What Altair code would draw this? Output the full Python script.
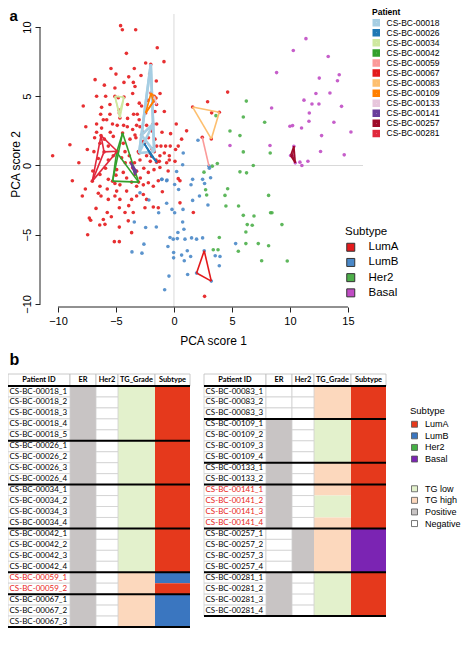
import itertools
import altair as alt
import pandas as pd

# ================= panel a : PCA scores =================
subtypes = ["LumA", "LumB", "Her2", "Basal"]
subtype_colors_a = ["#e41a1c", "#4a88c8", "#4daf4a", "#c04cc4"]

lumA_pts = [
    (-4.6, 10.1), (-4.45, 9.8), (-3.3, 9.8), (-1.44, 8.5),
    (-0.86, 7.5), (-2.44, 7.4), (-5.43, 7.0), (-3.42, 7.0), (-5.0, 6.6), (-3.9, 6.4), (-2.84, 6.5),
    (-1.52, 6.1), (-4.31, 6.0), (-3.5, 6.0), (-3.36, 5.7),
    (-5.09, 5.6), (-6.67, 5.0), (-5.89, 5.0), (-3.56, 5.2), (-2.99, 4.5), (-5.52, 4.4), (-7.82, 4.3),
    (-6.24, 4.2), (-4.74, 4.0), (-4.0, 4.4), (-0.83, 3.9), (-1.64, 3.9), (-6.32, 3.7), (-5.52, 3.7),
    (-3.48, 3.7), (-3.16, 3.7), (-2.79, 4.3), (2.9, 4.6), (4.63, 5.3), (3.25, 3.8), (-2.24, 4.7),
    (-6.09, 3.3), (-6.67, 3.0), (-5.8, 3.3), (-4.89, 2.9), (-4.34, 2.9), (-4.02, 2.8), (-3.22, 2.9),
    (-2.93, 2.8), (-6.24, 2.7), (-6.67, 2.4), (-5.49, 2.4), (-3.56, 2.6), (-1.03, 2.4), (-0.29, 2.3),
    (1.09, 2.5), (-2.36, 2.9), (-1.49, 3.0), (-2.64, 2.4), (-3.36, 2.2), (-1.93, 2.5), (-5.23, 2.1),
    (-6.84, 2.0), (0.66, 1.9),
    (-8.97, 1.5), (-10.46, 0.7), (-6.38, 1.6), (-7.47, 1.15), (-5.66, 1.4), (-4.37, 1.6), (-3.79, 1.9),
    (-3.28, 2.0), (-2.64, 1.75), (-1.64, 1.9), (-1.12, 1.4), (-0.72, 1.4), (-0.32, 1.4), (-1.49, 1.4),
    (-0.83, 0.9), (-1.21, 0.7), (-1.55, 0.4), (-2.04, 0.3), (-1.26, 0.3), (-0.4, 0.7), (-3.85, 0.7),
    (-4.22, 1.0), (-4.51, 0.55), (-5.23, 0.7), (-5.66, 0.4), (-6.52, 0.5), (-3.07, 1.0), (-2.93, 0.4),
    (-2.36, 0.7), (-0.63, 0.2), (0.14, 1.15), (0.37, 1.4),
    (-8.76, -1.1), (-7.64, -1.7), (-6.38, -0.65), (-5.66, -1.0), (-5.09, -1.3), (-4.66, -1.4),
    (-4.08, -0.9), (-3.65, -1.2), (-3.22, -1.5), (-2.64, -1.4), (-2.21, -1.25), (-1.78, -1.5),
    (-1.35, -1.1), (-2.21, -0.5), (-1.72, -0.3), (-1.21, -0.15), (-4.37, -0.5), (-4.94, -0.3),
    (0.09, 0.3), (0.37, -0.95), (0.52, -1.1), (-6.38, -1.5), (-5.75, -1.7), (-2.64, -2.1),
    (-4.94, -1.85), (-4.08, -1.85),
    (-6.52, -2.0), (-6.29, -2.2), (-5.66, -2.45), (-5.09, -2.2), (-4.66, -2.45), (-3.65, -2.45),
    (-3.22, -2.2), (-2.36, -2.45), (-6.72, -3.1), (-5.75, -3.4), (-4.71, -3.05), (-4.22, -3.4),
    (-3.51, -3.4), (-2.5, -3.05), (-1.78, -3.0), (-1.35, -3.05), (1.67, -3.4), (0.52, -2.7), (-7.3, -3.8),
    (-7.18, -3.95), (-6.09, -3.9), (-5.95, -4.25), (-4.71, -4.45), (-3.94, -4.0), (-7.44, -5.0),
    (-5.14, -5.5), (-4.71, -5.5), (-3.65, -4.85), (2.64, -9.45),
    (-6.0, 1.9), (-5.3, 3.0), (-4.0, 3.4), (-3.0, 3.3), (-2.2, 2.0), (-1.9, 1.2), (-0.5, -0.4),
    (-2.9, -0.9), (-3.4, 0.2), (-5.9, -0.2), (-6.9, 1.0), (-7.0, -0.4), (-5.0, -0.7), (-4.2, 0.2),
    (-2.6, -0.2), (-1.0, -1.9), (-3.9, -2.9), (-5.4, -3.7), (-6.4, -4.3), (-7.9, -2.2), (-8.2, 0.2),
    (-7.6, 2.8), (-6.8, 6.2), (-4.1, 8.1), (-2.1, 6.6), (-4.8, 4.9), (-6.0, 5.8), (-1.2, 5.2),
    (0.2, 3.0), (-0.4, 0.4),
]

lumB_pts = [
    (0.75, 0.05), (0.23, -0.43), (2.07, 1.82), (-1.03, -1.0), (-0.6, -1.05), (0.06, -1.37), (0.4, -1.73),
    (1.61, -1.0), (1.47, -1.39), (2.47, -1.0), (2.64, -1.3), (3.16, -0.89), (3.05, -0.2), (1.61, -2.52),
    (2.2, -2.2), (2.93, -2.85), (-2.16, -2.49), (-2.93, -1.97), (-1.32, -3.41), (-0.63, -2.73),
    (-0.17, -3.17), (0.06, -3.41), (0.78, -3.17), (-3.42, -4.08), (-2.44, -4.48), (-1.52, -4.44),
    (0.75, -4.08), (0.86, -4.6), (0.34, -4.84), (-0.34, -5.2), (-0.06, -5.32), (0.29, -5.28),
    (0.95, -5.32), (1.52, -5.23), (1.95, -5.32), (2.47, -5.23), (-0.52, -5.85), (-3.62, -6.24),
    (-2.76, -6.33), (-2.59, -5.68), (-0.03, -6.28), (-0.03, -6.67), (0.66, -6.47), (1.44, -6.57),
    (0.89, -6.88), (1.15, -6.16), (3.56, -6.52), (3.97, -6.57), (3.91, -7.24), (-0.43, -7.99),
    (-0.8, -8.97), (1.18, -7.87), (5.32, -5.64), (0.8, 0.9), (-1.06, -1.0), (-0.63, -1.1),
]

her2_pts = [
    (6.24, 4.65), (5.98, 3.5), (3.62, 3.6), (7.82, 3.12), (4.83, 2.49), (5.69, 2.16), (5.98, 0.98),
    (6.84, 0.0), (3.74, 0.14), (3.3, -0.05), (2.59, -0.48), (5.69, -0.46), (6.26, -0.53), (2.73, -1.75),
    (2.82, -2.13), (4.63, -1.68), (4.4, -2.16), (8.16, -2.16), (4.48, -2.93), (5.57, -2.93),
    (5.98, -3.6), (6.32, -4.27), (6.75, -4.32), (6.9, -3.65), (8.33, -3.41), (8.45, -3.41),
    (9.31, -4.27), (6.2, -4.8), (3.91, -5.2), (3.39, -6.09), (3.8, -6.09), (6.2, -5.64), (5.55, -6.19),
    (7.27, -5.64), (8.16, -5.8), (7.56, -6.88), (9.77, -6.9), (8.3, 0.9),
]

basal_pts = [
    (11.38, 9.16), (10.29, 8.3), (13.3, 7.87), (8.85, 6.71), (14.25, 6.55), (12.53, 6.31), (14.1, 6.12),
    (12.24, 5.2), (13.45, 5.23), (11.21, 4.72), (11.9, 4.44), (12.5, 4.44), (14.45, 4.27), (8.42, 4.15),
    (11.67, 3.79), (13.79, 3.12), (10.0, 2.83), (10.23, 2.88), (11.0, 2.71), (11.64, 3.19),
    (12.73, 2.16), (15.26, 2.42), (8.28, 1.44), (4.83, 1.44), (12.64, 1.01), (14.68, 0.77),
    (11.55, 0.31), (10.86, 0.24), (11.03, 0.0),
]

patients = ["CS-BC-00018", "CS-BC-00026", "CS-BC-00034", "CS-BC-00042", "CS-BC-00059", "CS-BC-00067",
            "CS-BC-00083", "CS-BC-00109", "CS-BC-00133", "CS-BC-00141", "CS-BC-00257", "CS-BC-00281"]
patient_colors = ["#a6cee3", "#1f78b4", "#cfe8a0", "#33a02c", "#fb9a99", "#e31a1c",
                  "#fdbf6f", "#ff7f00", "#e7c6dc", "#6a3d9a", "#9e0b2a", "#e0283c"]

patient_samples = {
    "CS-BC-00018": [(-2.0, 7.3), (-1.8, 3.0), (-3.0, 0.9), (-1.7, 1.0), (-2.8, 2.2)],
    "CS-BC-00026": [(-2.56, 1.58), (-2.07, 0.91), (-1.49, 0.24), (-1.93, 0.67)],
    "CS-BC-00034": [(-5.09, 4.99), (-4.31, 4.94), (-4.66, 3.43), (-4.71, 3.79)],
    "CS-BC-00042": [(-4.43, 2.35), (-5.29, -1.13), (-3.05, -1.2), (-4.94, 0.96)],
    "CS-BC-00059": [(3.02, -0.05), (2.44, 2.04)],
    "CS-BC-00067": [(2.61, -6.16), (1.95, -7.77), (3.22, -8.35)],
    "CS-BC-00083": [(1.61, 4.22), (3.91, 3.84), (3.22, 1.92)],
    "CS-BC-00109": [(-1.98, 5.23), (-1.55, 4.87), (-2.44, 3.79), (-1.78, 4.63)],
    "CS-BC-00133": [(-1.7, 5.0), (-1.5, 4.4)],
    "CS-BC-00141": [(-3.71, 0.19), (-3.36, -0.65), (-3.56, -0.17), (-3.22, -0.41)],
    "CS-BC-00257": [(10.34, 1.39), (10.06, 0.72), (10.46, 0.19), (10.23, 0.67)],
    "CS-BC-00281": [(-7.04, -1.13), (-6.29, 2.16), (-6.03, 0.98), (-4.89, 1.03)],
}

x_ticks = [-10, -5, 0, 5, 10, 15]
y_ticks = [-10, -5, 0, 5, 10]

# ================= panel b : sample table =================
left_ids = ["CS-BC-00018_1", "CS-BC-00018_2", "CS-BC-00018_3", "CS-BC-00018_4", "CS-BC-00018_5",
            "CS-BC-00026_1", "CS-BC-00026_2", "CS-BC-00026_3", "CS-BC-00026_4",
            "CS-BC-00034_1", "CS-BC-00034_2", "CS-BC-00034_3", "CS-BC-00034_4",
            "CS-BC-00042_1", "CS-BC-00042_2", "CS-BC-00042_3", "CS-BC-00042_4",
            "CS-BC-00059_1", "CS-BC-00059_2",
            "CS-BC-00067_1", "CS-BC-00067_2", "CS-BC-00067_3"]
left_er = ["Positive"] * 22
left_her2 = ["Negative"] * 22
left_tg = ["TG low"] * 17 + ["TG high"] * 5
left_subtype = ["LumA"] * 17 + ["LumB", "LumA", "LumB", "LumB", "LumB"]

right_ids = ["CS-BC-00083_1", "CS-BC-00083_2", "CS-BC-00083_3",
             "CS-BC-00109_1", "CS-BC-00109_2", "CS-BC-00109_3", "CS-BC-00109_4",
             "CS-BC-00133_1", "CS-BC-00133_2",
             "CS-BC-00141_1", "CS-BC-00141_2", "CS-BC-00141_3", "CS-BC-00141_4",
             "CS-BC-00257_1", "CS-BC-00257_2", "CS-BC-00257_3", "CS-BC-00257_4",
             "CS-BC-00281_1", "CS-BC-00281_2", "CS-BC-00281_3", "CS-BC-00281_4"]
right_er = ["Negative"] * 3 + ["Positive"] * 10 + ["Negative"] * 4 + ["Positive"] * 4
right_her2 = ["Negative"] * 13 + ["Positive"] * 4 + ["Negative"] * 4
right_tg = (["TG high"] * 3 + ["TG low"] * 4 + ["TG high"] * 2 + ["TG high", "TG low", "TG low", "TG high"]
            + ["TG high"] * 4 + ["TG low"] * 4)
right_subtype = ["LumA"] * 13 + ["Basal"] * 4 + ["LumA"] * 4

highlighted_patients = ["CS-BC-00059", "CS-BC-00141"]
col_names = ["Patient ID", "ER", "Her2", "TG_Grade", "Subtype"]
status_cats = ["TG low", "TG high", "Positive", "Negative"]
status_colors = ["#e3f1cc", "#fcd8bd", "#c8c4c4", "#ffffff"]
subtype_colors_b = ["#e5391c", "#3a76c0", "#45b045", "#7b24b3"]

# ---------------- layout (pixels / units) ----------------
W, H = 455, 622
FONT = "Liberation Sans"
TFONT = "Lato"
col_edges = [0, 62, 88, 110, 147, 182]
table_origins = [0, 196]
HEADER_TOP = -1.1

XS = alt.Scale(domain=[-11.55, 16.3], range=[32, 355], zero=False, nice=False)
YS = alt.Scale(domain=[-10.22, 10.94], range=[299, 6], zero=False, nice=False)
XT = alt.Scale(domain=[0, W], range=[0, W], zero=False, nice=False)
YT = alt.Scale(domain=[HEADER_TOP, 22], range=[366, 619], zero=False, nice=False)

# ---------------- build panel a frames ----------------
sample_subtype = dict(zip(left_ids + right_ids, left_subtype + right_subtype))
rows = []
for st, pts in zip(subtypes, [lumA_pts, lumB_pts, her2_pts, basal_pts]):
    for x, y in pts:
        rows.append({"x": x, "y": y, "Subtype": st})
for p, verts in patient_samples.items():
    for k, (x, y) in enumerate(verts, start=1):
        rows.append({"x": x, "y": y, "Subtype": sample_subtype[f"{p}_{k}"]})
points_df = pd.DataFrame(rows)

seg_rows = []
for p, verts in patient_samples.items():
    for (xa, ya), (xb, yb) in itertools.combinations(verts, 2):
        seg_rows.append({"x": xa, "y": ya, "x2": xb, "y2": yb, "Patient": p})
seg_df = pd.DataFrame(seg_rows)

xd, yd = XS.domain, YS.domain
guide_df = pd.DataFrame([
    {"x": 0, "x2": 0, "y": yd[0], "y2": yd[1]},
    {"x": xd[0], "x2": xd[1], "y": 0, "y2": 0},
])
axis_df = pd.DataFrame([
    {"x": xd[0], "x2": xd[0], "y": y_ticks[0], "y2": y_ticks[-1]},
    {"x": x_ticks[0], "x2": x_ticks[-1], "y": yd[0], "y2": yd[0]},
])

# ---------------- build panel b frames ----------------
def runs(values):
    out, start = [], 0
    for i in range(1, len(values) + 1):
        if i == len(values) or values[i] != values[start]:
            out.append((start, i, values[start]))
            start = i
    return out

status_rows, subtype_rows, white_rows, id_rows, header_rows, group_rows = [], [], [], [], [], []
tables = [(table_origins[0], left_ids, left_er, left_her2, left_tg, left_subtype),
          (table_origins[1], right_ids, right_er, right_her2, right_tg, right_subtype)]
for origin, ids, er, her2, tg, sub in tables:
    for i, sid in enumerate(ids):
        white_rows.append({"x": origin + col_edges[0], "x2": origin + col_edges[1], "y": i, "y2": i + 1})
        id_rows.append({"x": origin + 1.5, "y": i + 0.5, "label": sid,
                        "hl": sid.rsplit("_", 1)[0] in highlighted_patients})
    for c, col in [(1, er), (2, her2), (3, tg)]:
        for a, b, v in runs(col):
            status_rows.append({"x": origin + col_edges[c], "x2": origin + col_edges[c + 1],
                                "y": a, "y2": b, "cat": v})
        for i, v in enumerate(col):
            if v == "Negative":
                white_rows.append({"x": origin + col_edges[c], "x2": origin + col_edges[c + 1],
                                   "y": i, "y2": i + 1})
    for a, b, v in runs(sub):
        subtype_rows.append({"x": origin + col_edges[4], "x2": origin + col_edges[5],
                             "y": a, "y2": b, "Subtype": v})
    for c, name in enumerate(col_names):
        header_rows.append({"x": origin + col_edges[c], "x2": origin + col_edges[c + 1],
                            "xm": origin + (col_edges[c] + col_edges[c + 1]) / 2,
                            "y": HEADER_TOP, "y2": 0, "ym": HEADER_TOP / 2, "label": name})
    prefixes = [s.rsplit("_", 1)[0] for s in ids]
    bounds = [0] + [i for i in range(1, len(ids)) if prefixes[i] != prefixes[i - 1]] + [len(ids)]
    for bnd in bounds:
        group_rows.append({"x": origin, "x2": origin + col_edges[-1], "y": bnd})

status_df = pd.DataFrame(status_rows)
subtype_df = pd.DataFrame(subtype_rows)
white_df = pd.DataFrame(white_rows)
id_df = pd.DataFrame(id_rows)
header_df = pd.DataFrame(header_rows)
group_df = pd.DataFrame(group_rows)

# ---------------- layers ----------------
guides = alt.Chart(guide_df).mark_rule(color="#d9d9d9", strokeWidth=1).encode(
    x=alt.X("x:Q", scale=XS, axis=None), x2="x2:Q",
    y=alt.Y("y:Q", scale=YS, axis=None), y2="y2:Q")

axis_lines = alt.Chart(axis_df).mark_rule(color="#222222", strokeWidth=1).encode(
    x=alt.X("x:Q", scale=XS, axis=None), x2="x2:Q",
    y=alt.Y("y:Q", scale=YS, axis=None), y2="y2:Q")

points = alt.Chart(points_df).mark_circle(size=13, opacity=0.9).encode(
    x=alt.X("x:Q", scale=XS, axis=alt.Axis(
        values=x_ticks, orient="bottom", offset=-(H - 299), domain=False, grid=False,
        tickSize=5, tickColor="#222222", labelFontSize=11, labelFont=FONT, labelColor="black",
        labelPadding=3, title="PCA score 1", titleFont=FONT, titleFontSize=12,
        titleFontWeight="normal", titleColor="black", titleX=205, titleY=33,
        titleBaseline="middle", titleAlign="center")),
    y=alt.Y("y:Q", scale=YS, axis=alt.Axis(
        values=y_ticks, orient="left", offset=-32, domain=False, grid=False,
        tickSize=5, tickColor="#222222", labelFontSize=11, labelFont=FONT, labelColor="black",
        labelPadding=3, labelAngle=270, labelAlign="center", labelBaseline="bottom",
        title="PCA score 2", titleFont=FONT, titleFontSize=12, titleFontWeight="normal",
        titleColor="black", titleAngle=270, titleX=-30, titleY=156, titleBaseline="top",
        titleAlign="center")),
    fill=alt.Fill("Subtype:N", scale=alt.Scale(domain=subtypes, range=subtype_colors_a),
                  legend=alt.Legend(title="Subtype", orient="none", legendX=337, legendY=218,
                                    symbolType="square", symbolSize=64, symbolStrokeColor="#333333",
                                    symbolStrokeWidth=1, symbolOpacity=1, labelFont=FONT,
                                    labelFontSize=11.5, titleFont=FONT, titleFontSize=11.5,
                                    titleFontWeight="normal", labelColor="black", titleColor="black",
                                    rowPadding=2.2, labelOffset=12, titlePadding=4)),
)

segments = alt.Chart(seg_df).mark_rule().encode(
    x=alt.X("x:Q", scale=XS, axis=None), x2="x2:Q",
    y=alt.Y("y:Q", scale=YS, axis=None), y2="y2:Q",
    stroke=alt.Stroke("Patient:N", scale=alt.Scale(domain=patients, range=patient_colors),
                      legend=alt.Legend(title="Patient", orient="none", legendX=364, legendY=0,
                                        symbolType="square", symbolSize=16, symbolStrokeWidth=3.5,
                                        labelFont=FONT, labelFontSize=8.5, titleFont=FONT,
                                        titleFontSize=8.5, titleFontWeight="bold",
                                        labelColor="black", titleColor="black", clipHeight=8.5,
                                        rowPadding=1.06, labelOffset=6, titlePadding=2)),
    strokeWidth=alt.condition(alt.datum.Patient == "CS-BC-00018", alt.value(2.6), alt.value(1.6)),
)

status_cells = alt.Chart(status_df).mark_rect().encode(
    x=alt.X("x:Q", scale=XT, axis=None), x2="x2:Q",
    y=alt.Y("y:Q", scale=YT, axis=None), y2="y2:Q",
    fill=alt.Fill("cat:N", scale=alt.Scale(domain=status_cats, range=status_colors),
                  legend=alt.Legend(title=None, orient="none", legendX=402, legendY=476,
                                    symbolType="square", symbolSize=36, symbolStrokeColor="#555555",
                                    symbolStrokeWidth=0.8, labelFont=FONT, labelFontSize=9,
                                    labelColor="black", clipHeight=9.5, rowPadding=1.6,
                                    labelOffset=6)),
)

subtype_cells = alt.Chart(subtype_df).mark_rect().encode(
    x=alt.X("x:Q", scale=XT, axis=None), x2="x2:Q",
    y=alt.Y("y:Q", scale=YT, axis=None), y2="y2:Q",
    fill=alt.Fill("Subtype:N", scale=alt.Scale(domain=subtypes, range=subtype_colors_b),
                  legend=alt.Legend(title="Subtype", orient="none", legendX=402, legendY=398,
                                    symbolType="square", symbolSize=36, symbolStrokeColor="#555555",
                                    symbolStrokeWidth=0.8, labelFont=FONT, labelFontSize=9,
                                    titleFont=FONT, titleFontSize=9.5, titleFontWeight="normal",
                                    labelColor="black", titleColor="black", clipHeight=9.5,
                                    rowPadding=1.6, labelOffset=6, titlePadding=4)),
)

white_cells = alt.Chart(white_df).mark_rect(fill="white", stroke="#cfcfcf", strokeWidth=0.8).encode(
    x=alt.X("x:Q", scale=XT, axis=None), x2="x2:Q",
    y=alt.Y("y:Q", scale=YT, axis=None), y2="y2:Q")

header_cells = alt.Chart(header_df).mark_rect(fill="white", stroke="#bdbdbd", strokeWidth=0.8).encode(
    x=alt.X("x:Q", scale=XT, axis=None), x2="x2:Q",
    y=alt.Y("y:Q", scale=YT, axis=None), y2="y2:Q")

header_text = alt.Chart(header_df).mark_text(font=TFONT, fontSize=7.4, fontWeight="bold",
                                             align="center", baseline="middle", color="black").encode(
    x=alt.X("xm:Q", scale=XT, axis=None), y=alt.Y("ym:Q", scale=YT, axis=None), text="label:N")

id_text = alt.Chart(id_df).mark_text(font=TFONT, fontSize=8, align="left", baseline="middle").encode(
    x=alt.X("x:Q", scale=XT, axis=None), y=alt.Y("y:Q", scale=YT, axis=None), text="label:N",
    color=alt.condition(alt.datum.hl, alt.value("#e8231a"), alt.value("black")))

group_lines = alt.Chart(group_df).mark_rule(color="black", strokeWidth=2).encode(
    x=alt.X("x:Q", scale=XT, axis=None), x2="x2:Q", y=alt.Y("y:Q", scale=YT, axis=None))

letter_a = alt.Chart(pd.DataFrame({"t": ["a"]})).mark_text(
    font=FONT, fontSize=15, fontWeight="bold", align="left", baseline="alphabetic").encode(
    text="t:N", x=alt.value(1.5), y=alt.value(13))
letter_b = alt.Chart(pd.DataFrame({"t": ["b"]})).mark_text(
    font=FONT, fontSize=16, fontWeight="bold", align="left", baseline="alphabetic").encode(
    text="t:N", x=alt.value(1.5), y=alt.value(357))

chart = alt.layer(
    guides, axis_lines, points, segments,
    status_cells, subtype_cells, white_cells, header_cells, header_text, id_text, group_lines,
    letter_a, letter_b,
).resolve_scale(
    x="independent", y="independent", fill="independent", stroke="independent", color="independent"
).properties(
    width=W, height=H, autosize=alt.AutoSizeParams(type="none"), padding=0
).configure_view(strokeWidth=0)

chart.save("out.html", embed_options={"renderer": "svg", "actions": False})
